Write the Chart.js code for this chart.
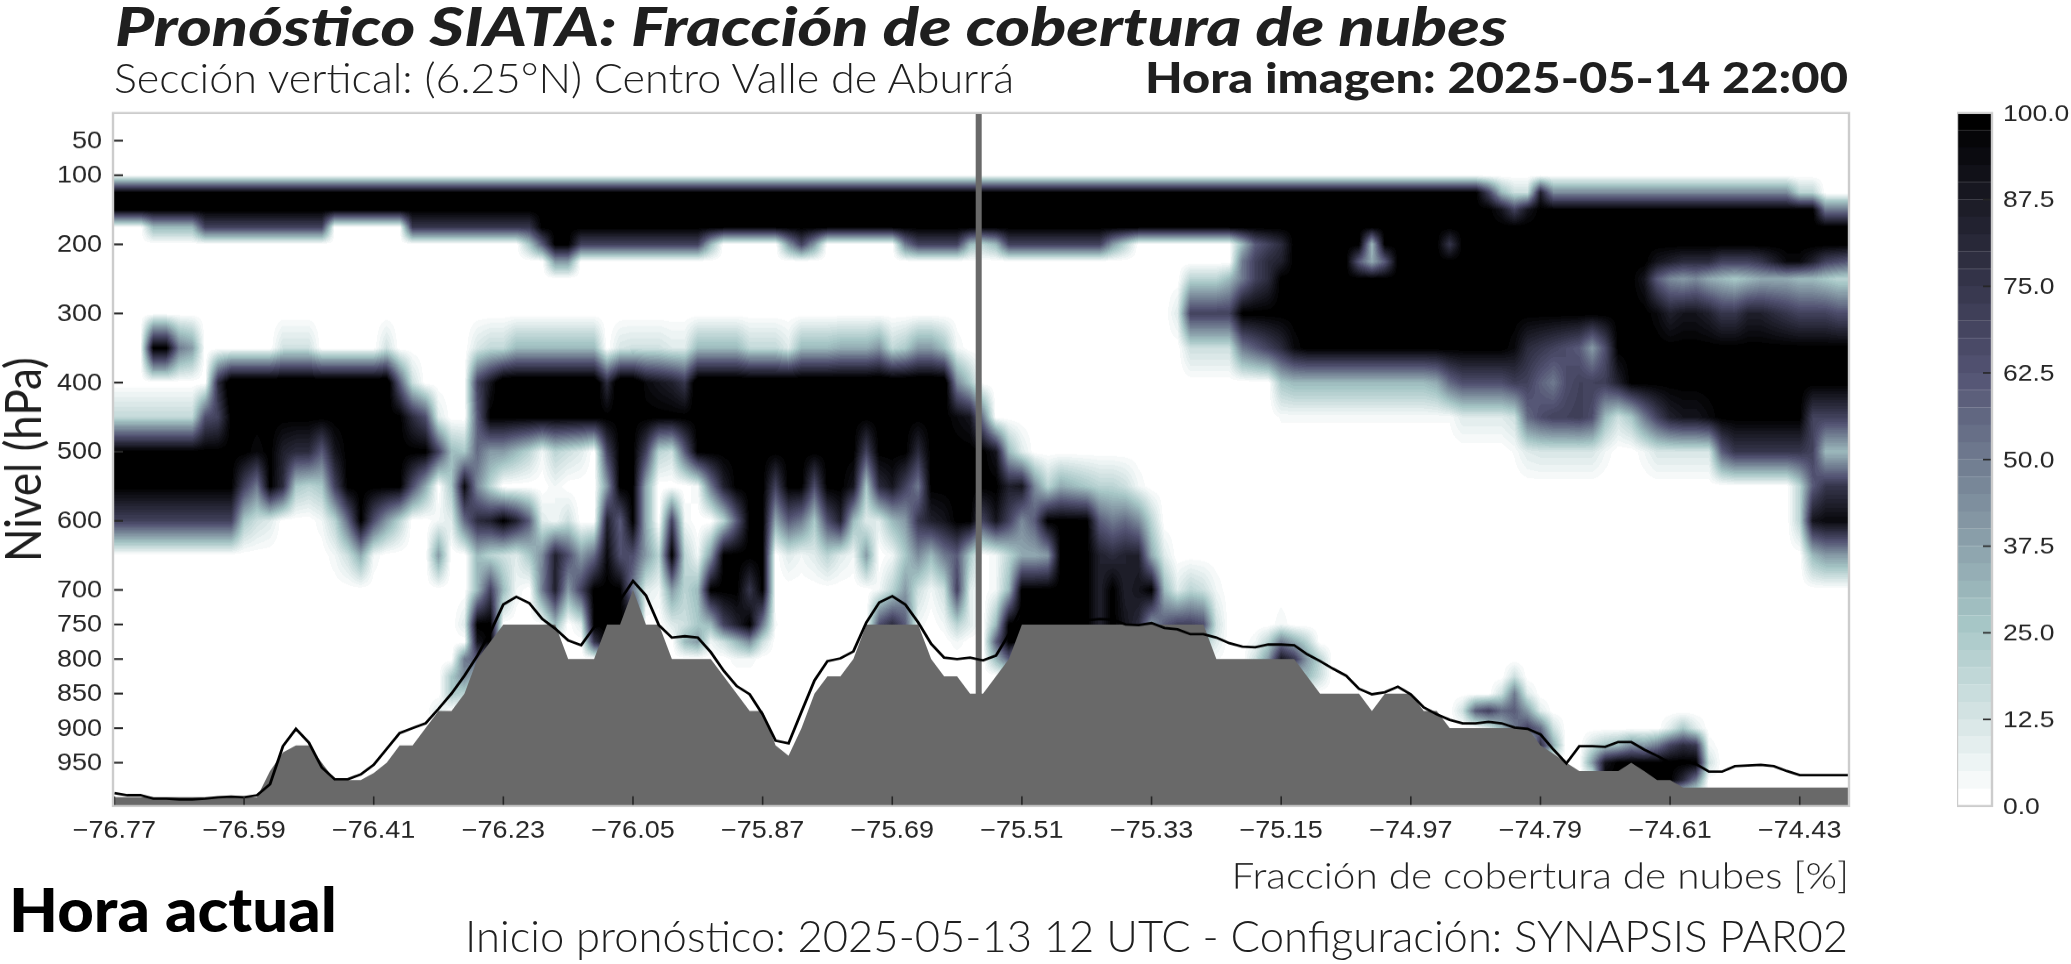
<!DOCTYPE html>
<html lang="es">
<head>
<meta charset="UTF-8">
<title>Pronóstico SIATA</title>
<script src="https://cdn.jsdelivr.net/npm/chart.js"></script>
<style>
  html, body { margin: 0; padding: 0; background: #fff; overflow: hidden; }
  #page { position: relative; width: 2071px; height: 964px; overflow: hidden; }
  /* the reference is stretched sideways, so the canvases are drawn taller and squeezed back */
  #squeeze { position: absolute; left: 0; top: 0; width: 2071px; height: 1099px; transform: scaleY(0.8772); transform-origin: left top; }
  #squeeze canvas { position: absolute; top: 0; }
  .txt { position: absolute; white-space: nowrap; line-height: 1; color: #1f1f1f; font-family: Lato, sans-serif; transform-origin: left top; }
</style>
</head>
<body>
<div id="page">
  <div id="squeeze">
    <canvas id="section" width="1940" height="1099" style="left:0"></canvas>
    <canvas id="colorbar" width="114" height="1099" style="left:1957px"></canvas>
  </div>
  <div class="txt" data-w="1392" style="left:115px;top:-1px;font-size:54px;font-weight:900;font-style:italic">Pronóstico SIATA: Fracción de cobertura de nubes</div>
  <div class="txt" data-w="900" style="left:114px;top:56px;font-size:42px;font-weight:300">Sección vertical: (6.25°N) Centro Valle de Aburrá</div>
  <div class="txt" data-w="703" style="left:1145px;top:56px;font-size:42px;font-weight:900">Hora imagen: 2025-05-14 22:00</div>
  <div class="txt" data-w="328" style="left:9px;top:879px;font-size:60px;font-weight:900;color:#000">Hora actual</div>
  <div class="txt" data-w="1383" style="left:465px;top:913px;font-size:44px;font-weight:300">Inicio pronóstico: 2025-05-13 12 UTC - Configuración: SYNAPSIS PAR02</div>
</div>

<script>
// pressure levels of the model and the tick labels
const levels = [100,125,150,175,200,225,250,300,350,400,450,500,550,600,650,700,750,775,800,825,850,875,900,925,950,975,1000];
const levelTicks = [50,100,200,300,400,500,600,700,750,800,850,900,950];
const lonTicks = [-76.77,-76.59,-76.41,-76.23,-76.05,-75.87,-75.69,-75.51,-75.33,-75.15,-74.97,-74.79,-74.61,-74.43];
const barTicks = [0,12.5,25,37.5,50,62.5,75,87.5,100];
const lon0 = -76.77, lonStep = 0.018, nCols = 135;
const currentLon = -75.57;

// cloud fraction per level, written as pairs: first column, value kept from there on
const cf100 = [0,0];
const cf125 = [0,100, 106,70, 107,30, 108,15, 110,85, 111,45, 130,20, 132,0];
const cf150 = [0,100, 107,90, 108,70, 109,90, 110,100, 132,50];
const cf175 = [0,0, 3,30, 7,70, 17,0, 23,75, 33,100];
const cf200 = [0,0, 32,25, 33,60, 34,100, 36,70, 46,30, 47,0, 52,40, 53,70, 54,40, 55,0, 61,50, 62,70, 66,30, 67,20, 68,30, 69,70, 77,40, 78,20, 79,0, 87,30, 88,60, 89,70, 90,80, 91,100, 97,30, 98,100, 103,75, 104,100];
const cf225 = [0,0, 34,40, 36,0, 87,50, 88,70, 89,80, 90,85, 91,100, 96,60, 97,35, 98,60, 99,100, 119,90, 120,85, 121,80, 124,70, 127,75, 128,85, 129,95, 131,85, 132,70, 133,65, 134,60];
const cf250 = [0,0, 83,20, 86,30, 87,50, 88,70, 89,80, 90,100, 118,90, 119,60, 120,45, 121,40, 122,45, 123,35, 124,30, 125,25, 126,30, 127,35, 130,30, 132,25, 133,20];
const cf300 = [0,0, 82,10, 83,70, 87,100, 119,95, 120,85, 121,90, 123,85, 124,75, 126,85, 128,80, 129,75, 130,70, 133,65];
const cf350 = [0,0, 3,100, 5,50, 6,40, 7,0, 13,14, 16,0, 21,14, 22,0, 28,12, 29,18, 31,30, 38,0, 39,12, 40,14, 43,10, 45,30, 49,18, 52,10, 53,30, 56,34, 59,42, 60,18, 61,24, 62,40, 64,28, 65,5, 66,0, 83,15, 87,50, 88,60, 89,70, 90,80, 91,95, 92,100, 108,95, 109,80, 110,75, 111,70, 112,65, 113,60, 114,40, 115,65, 116,100];
const cf400 = [0,0, 8,80, 9,110, 22,60, 23,15, 24,0, 28,70, 29,90, 30,110, 38,80, 39,110, 41,95, 42,90, 43,85, 44,75, 45,110, 65,45, 66,25, 67,0, 90,25, 91,30, 102,35, 103,55, 104,65, 108,72, 109,70, 110,58, 111,50, 112,65, 113,70, 115,72, 116,85, 117,100];
const cf450 = [0,18, 7,65, 8,70, 9,100, 23,80, 24,65, 25,10, 26,0, 28,60, 29,100, 65,95, 66,90, 67,50, 68,0, 90,3, 104,10, 108,15, 109,55, 110,65, 111,70, 113,72, 114,65, 115,30, 116,15, 117,25, 118,50, 119,70, 120,85, 121,90, 123,95, 124,100, 131,70];
const cf500 = [0,100, 11,95, 12,100, 13,85, 14,80, 16,60, 17,90, 18,100, 25,70, 26,30, 27,25, 28,55, 29,40, 31,30, 32,20, 33,5, 34,20, 35,15, 36,10, 37,0, 38,70, 39,100, 41,70, 42,20, 43,15, 44,60, 45,100, 58,70, 59,100, 62,80, 63,100, 68,90, 69,30, 70,10, 71,0, 108,3, 109,10, 110,12, 115,5, 116,0, 118,5, 119,12, 124,60, 125,75, 131,70, 132,30];
const cf550 = [0,100, 10,70, 11,50, 12,100, 13,80, 14,25, 15,20, 16,25, 17,70, 18,100, 23,65, 24,35, 25,0, 26,25, 27,95, 28,45, 29,20, 30,0, 34,5, 35,0, 38,40, 39,100, 41,35, 42,0, 45,5, 46,50, 47,85, 48,100, 51,70, 52,100, 54,65, 55,100, 57,90, 58,25, 59,80, 60,90, 61,70, 62,50, 63,100, 69,85, 70,90, 71,45, 72,20, 73,35, 74,30, 75,25, 76,20, 78,15, 79,5, 80,0, 130,20, 131,60, 132,75];
const cf600 = [0,70, 10,25, 11,15, 12,10, 13,0, 16,5, 17,20, 18,55, 19,100, 20,65, 21,40, 22,20, 23,0, 25,5, 26,10, 27,55, 28,80, 29,85, 30,100, 31,85, 32,60, 33,10, 34,5, 35,15, 36,0, 38,85, 39,60, 40,100, 41,35, 42,0, 43,70, 44,5, 45,0, 47,20, 48,60, 49,100, 51,35, 52,60, 53,50, 54,25, 55,65, 56,85, 57,30, 58,10, 60,30, 61,40, 62,75, 63,85, 64,90, 65,100, 67,70, 68,90, 69,70, 70,45, 71,60, 72,100, 76,60, 77,50, 78,55, 79,45, 80,20, 81,0, 130,20, 131,90, 132,95];
const cf650 = [0,0, 17,5, 18,15, 19,35, 20,5, 21,0, 25,40, 26,0, 28,30, 29,20, 30,15, 31,10, 32,25, 33,45, 34,85, 35,65, 36,40, 37,55, 38,95, 39,65, 41,40, 42,20, 43,100, 44,20, 45,5, 46,40, 47,100, 51,0, 52,10, 53,5, 54,10, 55,20, 56,10, 57,5, 58,40, 59,0, 60,5, 61,25, 62,45, 63,30, 64,50, 65,60, 66,25, 67,0, 68,5, 69,20, 70,35, 72,40, 73,100, 76,85, 77,80, 78,85, 80,35, 81,10, 82,0, 131,30, 132,40];
const cf700 = [0,0, 28,30, 29,70, 30,30, 31,5, 32,0, 33,50, 34,85, 35,40, 36,70, 37,100, 40,50, 41,10, 42,5, 43,40, 44,20, 45,30, 46,100, 49,75, 50,100, 51,0, 59,5, 60,20, 61,40, 62,15, 63,5, 64,15, 65,70, 66,10, 67,0, 68,5, 69,30, 70,100, 76,85, 77,100, 78,85, 79,90, 80,100, 81,30, 82,10, 83,20, 84,15, 85,5, 86,0];
const cf750 = [0,0, 27,10, 28,100, 30,0, 34,30, 35,0, 36,10, 37,100, 41,0, 43,10, 44,15, 45,25, 46,30, 47,70, 48,85, 49,100, 50,50, 51,3, 52,0, 59,65, 60,80, 61,60, 62,5, 63,0, 64,5, 65,20, 66,10, 67,0, 68,30, 69,100, 76,85, 77,100, 78,90, 79,80, 80,40, 81,60, 82,70, 84,65, 85,15, 86,0, 90,5, 91,0];
const cf775 = [0,0, 28,90, 29,100, 30,0, 37,75, 38,100, 41,0, 44,30, 45,40, 46,5, 47,15, 48,30, 49,45, 50,15, 51,0, 65,5, 66,0, 68,60, 69,100, 84,25, 85,10, 86,0, 88,5, 89,20, 90,50, 91,35, 92,20, 93,0];
const cf800 = [0,0, 27,50, 28,60, 30,0, 48,5, 50,0, 68,30, 69,60, 70,0, 85,3, 86,0, 88,15, 89,40, 90,90, 91,75, 92,40, 93,20, 94,0];
const cf825 = [0,0, 26,25, 27,45, 28,30, 29,0, 91,20, 92,30, 93,15, 94,0, 108,15, 109,0];
const cf850 = [0,0, 26,25, 27,20, 28,0, 107,15, 108,50, 109,10, 110,0];
const cf875 = [0,0, 25,10, 26,0, 104,15, 105,60, 106,70, 107,55, 108,60, 109,40, 110,10, 111,0];
const cf900 = [0,0, 106,10, 107,30, 108,50, 109,70, 110,55, 111,15, 112,0, 120,10, 121,25, 122,10, 123,0];
const cf925 = [0,0, 110,80, 111,35, 112,0, 114,15, 115,25, 116,30, 117,45, 118,40, 119,50, 120,70, 121,80, 122,75, 123,5, 124,0];
const cf950 = [0,0, 114,40, 115,90, 116,100, 123,15, 124,0];
const cf975 = [0,0, 115,100, 121,80, 122,50, 123,0];
const cf1000 = [0,0];
const cloudRows = [cf100,cf125,cf150,cf175,cf200,cf225,cf250,cf300,cf350,cf400,cf450,cf500,cf550,cf600,cf650,cf700,cf750,cf775,cf800,cf825,cf850,cf875,cf900,cf925,cf950,cf975,cf1000];

// top of the masked ground (grey) and model terrain (black line), hPa per column
const groundTop = [1000,1000,1000,1000,1000,1000,1000,1000,1000,1000,1000,1000,962,935,925,925,950,975,975,975,965,950,925,925,900,875,875,850,800,775,750,750,750,750,750,800,800,800,750,750,700,750,750,800,800,800,800,825,850,875,875,925,940,900,850,825,825,800,750,750,750,750,750,800,825,825,850,850,825,800,750,750,750,750,750,750,750,750,750,750,750,750,750,750,750,800,800,800,800,800,800,800,825,850,850,850,850,875,850,850,850,875,875,900,900,900,900,900,900,900,925,937,950,962,962,962,962,950,962,975,975,986,986,986,986,986,986,986,986,986,986,986,986,986,986];
const terrainLine = [994,997,997,1002,1002,1003,1003,1002,1000,999,1000,997,981,926,901,921,957,974,974,967,953,930,907,900,893,872,850,824,795,761,721,710,719,742,756,773,780,754,747,715,687,708,751,769,767,769,790,817,839,851,880,918,922,876,831,803,799,789,747,718,709,721,747,778,798,800,798,802,795,764,725,715,725,735,740,744,742,743,750,751,748,755,757,764,764,769,777,782,783,779,779,780,793,803,814,824,843,851,848,840,851,870,880,888,893,893,891,893,899,901,909,931,951,926,926,927,920,920,931,940,950,947,952,963,963,955,954,953,955,962,968,968,968,968,968];

const K = 1099 / 964;   // canvases are taller by this much
const yMin = 10, yMax = 1012.7;
const lons = Array.from({length: nCols}, (_, i) => +(lon0 + i * lonStep).toFixed(3));

function expand(pairs) {
  const out = new Array(nCols).fill(0);
  for (let p = 0; p < pairs.length; p += 2) {
    const end = p + 2 < pairs.length ? pairs[p + 2] : nCols;
    for (let c = pairs[p]; c < end; c++) out[c] = pairs[p + 1];
  }
  return out;
}
const cloud = cloudRows.map(expand);

// matplotlib bone_r, 40 filled contour levels
function ramp(stops, t) {
  for (let i = 1; i < stops.length; i++) {
    if (t <= stops[i][0]) {
      const f = (t - stops[i-1][0]) / (stops[i][0] - stops[i-1][0]);
      return stops[i-1][1] + f * (stops[i][1] - stops[i-1][1]);
    }
  }
  return 1;
}
const palette = Array.from({length: 40}, (_, i) => {
  const t = 1 - i / 39;
  return [
    ramp([[0,0],[0.746032,0.652778],[1,1]], t),
    ramp([[0,0],[0.365079,0.319444],[0.746032,0.777778],[1,1]], t),
    ramp([[0,0],[0.365079,0.444444],[1,1]], t)
  ].map(v => Math.round(v * 255));
});

let fieldImg = null;
const cloudField = {
  id: 'cloudField',
  beforeDatasetsDraw(chart) {
    const {x, y} = chart.scales;
    const a = chart.chartArea;
    if (!fieldImg) {
      const w = Math.ceil(a.right - a.left), h = Math.ceil(a.bottom - a.top);
      fieldImg = document.createElement('canvas');
      fieldImg.width = w; fieldImg.height = h;
      const c2 = fieldImg.getContext('2d');
      const img = c2.createImageData(w, h);
      const rowAt = [];
      for (let j = 0; j < h; j++) {
        const p = y.getValueForPixel(a.top + j + 0.5);
        let r = 0;
        while (r < levels.length - 2 && p > levels[r + 1]) r++;
        const f = Math.min(1, Math.max(0, (p - levels[r]) / (levels[r + 1] - levels[r])));
        rowAt.push([r, f]);
      }
      for (let i = 0; i < w; i++) {
        const fc = (x.getValueForPixel(a.left + i + 0.5) - lon0) / lonStep;
        const c = Math.max(0, Math.min(nCols - 2, Math.floor(fc)));
        const fx = Math.max(0, Math.min(1, fc - c));
        for (let j = 0; j < h; j++) {
          const [r, f] = rowAt[j];
          const top = cloud[r][c] * (1 - fx) + cloud[r][c + 1] * fx;
          const bot = cloud[r + 1][c] * (1 - fx) + cloud[r + 1][c + 1] * fx;
          const v = top * (1 - f) + bot * f;
          const col = palette[Math.max(0, Math.min(39, Math.floor(v / 2.5)))];
          const o = (j * w + i) * 4;
          img.data[o] = col[0]; img.data[o + 1] = col[1]; img.data[o + 2] = col[2]; img.data[o + 3] = 255;
        }
      }
      c2.putImageData(img, 0, 0);
    }
    chart.ctx.drawImage(fieldImg, a.left, a.top);
  }
};

const frameAndTicks = {
  id: 'frameAndTicks',
  afterDatasetsDraw(chart) {
    const {x, y} = chart.scales;
    const a = chart.chartArea;
    const ctx = chart.ctx;
    ctx.save();
    ctx.strokeStyle = '#262626';
    ctx.lineWidth = 2.2;
    levelTicks.forEach(t => {
      const py = y.getPixelForValue(t);
      ctx.beginPath(); ctx.moveTo(a.left, py); ctx.lineTo(a.left + 10, py); ctx.stroke();
    });
    ctx.lineWidth = 1.6;
    lonTicks.forEach(t => {
      const px = x.getPixelForValue(t);
      ctx.beginPath(); ctx.moveTo(px, a.bottom); ctx.lineTo(px, a.bottom - 11); ctx.stroke();
    });
    ctx.strokeStyle = '#cccccc';
    ctx.lineWidth = 2.4;
    ctx.strokeRect(a.left, a.top, a.right - a.left, a.bottom - a.top);
    ctx.restore();
  }
};

const tickFont = {family: '"Liberation Sans", Arial, sans-serif', size: 27};

new Chart(document.getElementById('section'), {
  type: 'scatter',
  data: {
    datasets: [
      {label: 'Terreno modelo', data: lons.map((v, i) => ({x: v, y: terrainLine[i]})), showLine: true, borderColor: '#000', borderWidth: 2.8, pointRadius: 0, order: 1},
      {label: 'Superficie', data: lons.map((v, i) => ({x: v, y: groundTop[i]})), showLine: true, borderWidth: 0, borderColor: 'rgba(0,0,0,0)', backgroundColor: '#696969', fill: {value: yMax}, pointRadius: 0, order: 2},
      {label: 'Hora actual', data: [{x: currentLon, y: yMin}, {x: currentLon, y: yMax}], showLine: true, borderColor: '#696969', borderWidth: 6, pointRadius: 0, order: 3}
    ]
  },
  options: {
    responsive: false,
    animation: false,
    devicePixelRatio: 1,
    layout: {padding: {left: 0, top: 113 * K, right: 1940 - 1849, bottom: 0}},
    plugins: {legend: {display: false}, tooltip: {enabled: false}},
    scales: {
      x: {
        type: 'linear', min: -76.772, max: -74.3616,
        grid: {display: false, drawTicks: false}, border: {display: false},
        afterBuildTicks(s) { s.ticks = lonTicks.map(v => ({value: v})); },
        afterFit(s) { s.height = (964 - 806) * K; },
        ticks: {font: tickFont, color: '#262626', padding: 12, maxRotation: 0, autoSkip: false,
          callback: v => v.toFixed(2).replace('-', '\u2212')},
        title: {display: true, text: 'Fracción de cobertura de nubes [%]', align: 'end', color: '#1f1f1f',
          font: {family: 'Lato, sans-serif', weight: 300, size: 40.5, lineHeight: 1}, padding: {top: 0, bottom: 79}}
      },
      y: {
        type: 'linear', reverse: true, min: yMin, max: yMax,
        grid: {display: false, drawTicks: false}, border: {display: false},
        afterBuildTicks(s) { s.ticks = levelTicks.map(v => ({value: v})); },
        afterFit(s) { s.width = 113; },
        ticks: {font: tickFont, color: '#262626', padding: 11, autoSkip: false, labelOffset: 1},
        title: {display: true, text: 'Nivel (hPa)', color: '#1f1f1f',
          font: {family: 'Lato, sans-serif', weight: 400, size: 50, lineHeight: 1}, padding: {top: 0, bottom: 0}}
      }
    }
  },
  plugins: [cloudField, frameAndTicks]
});

// colour bar: one stacked bar per contour level
const barFrame = {
  id: 'barFrame',
  afterDatasetsDraw(chart) {
    const a = chart.chartArea, y = chart.scales.y, ctx = chart.ctx;
    ctx.save();
    ctx.strokeStyle = '#262626';
    ctx.lineWidth = 1.8;
    barTicks.slice(1, -1).forEach(t => {
      const py = y.getPixelForValue(t);
      ctx.beginPath(); ctx.moveTo(a.right - 9, py); ctx.lineTo(a.right, py); ctx.stroke();
    });
    ctx.strokeStyle = '#cccccc';
    ctx.lineWidth = 2.4;
    ctx.strokeRect(a.left, a.top, a.right - a.left, a.bottom - a.top);
    ctx.restore();
  }
};

new Chart(document.getElementById('colorbar'), {
  type: 'bar',
  data: {
    labels: ['nubes'],
    datasets: palette.map((c, i) => {
      const col = `rgb(${c[0]},${c[1]},${c[2]})`;
      return {label: String(i * 2.5), data: [2.5], backgroundColor: col, borderColor: col, borderWidth: 0.6, barPercentage: 1, categoryPercentage: 1};
    })
  },
  options: {
    responsive: false,
    animation: false,
    devicePixelRatio: 1,
    layout: {padding: {left: 0, right: 0, top: 113 * K, bottom: (964 - 806) * K}},
    plugins: {legend: {display: false}, tooltip: {enabled: false}},
    scales: {
      x: {stacked: true, display: false},
      y: {
        stacked: true, position: 'right', min: 0, max: 100,
        grid: {display: false, drawTicks: false}, border: {display: false},
        afterBuildTicks(s) { s.ticks = barTicks.map(v => ({value: v})); },
        afterFit(s) { s.width = 2071 - 1992; },
        ticks: {font: {family: tickFont.family, size: 26.5}, color: '#262626', padding: 11, autoSkip: false, labelOffset: 1.5, callback: v => v.toFixed(1)}
      }
    }
  },
  plugins: [barFrame]
});

// fit the header and footer text to the widths seen in the picture
document.querySelectorAll('.txt').forEach(el => {
  el.style.transform = `scaleX(${el.dataset.w / el.getBoundingClientRect().width})`;
});
</script>
</body>
</html>
